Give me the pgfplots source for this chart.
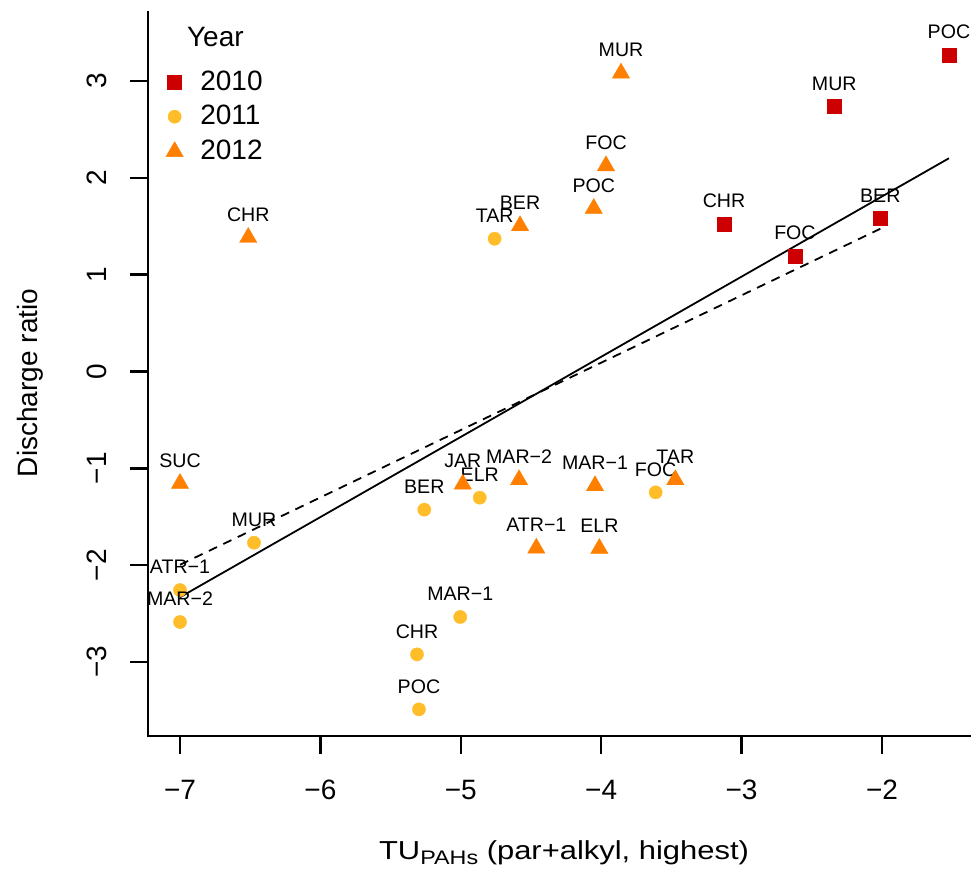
\documentclass[border=0pt]{standalone}
\usepackage{pgfplots}
\usepackage{pgfplotstable}
\usepackage{graphicx}
\pgfplotsset{compat=1.18}
\usetikzlibrary{calc}
\usepackage{fontspec}
\setmainfont{Liberation Sans}

\definecolor{yrA}{HTML}{CC0000}
\definecolor{yrB}{HTML}{FFBD2A}
\definecolor{yrC}{HTML}{FF7F00}

% single mark as legend image, centred on the entry text
\pgfplotsset{dotlegend/.style={legend image code/.code={\draw[##1] plot coordinates {(0pt,0pt)};}}}

% 2010 samples
\pgfplotstableread{
x y site
-1.523 3.266 POC
-2.340 2.735 MUR
-3.125 1.523 CHR
-2.620 1.190 FOC
-2.012 1.582 BER
}\tabA

% 2011 samples
\pgfplotstableread{
x y site
-4.759 1.371 TAR
-6.473 -1.768 MUR
-7.000 -2.257 ATR−1
-7.000 -2.587 MAR−2
-5.260 -1.427 BER
-4.865 -1.303 ELR
-5.004 -2.535 MAR−1
-5.312 -2.921 CHR
-5.298 -3.489 POC
-3.612 -1.248 FOC
}\tabB

% 2012 samples
\pgfplotstableread{
x y site
-3.859 3.081 MUR
-3.966 2.124 FOC
-4.053 1.683 POC
-4.578 1.505 BER
-6.514 1.384 CHR
-7.000 -1.157 SUC
-4.986 -1.164 JAR
-4.585 -1.118 MAR−2
-4.044 -1.180 MAR−1
-3.472 -1.118 TAR
-4.462 -1.825 ATR−1
-4.013 -1.828 ELR
}\tabC

\newcommand\bigfont{\fontsize{14}{16}\selectfont}
\newcommand\smallfont{\fontsize{9.8}{11}\selectfont}

\begin{document}
\begin{tikzpicture}
\useasboundingbox (-74pt,-67pt) rectangle (411.5pt,368pt);
\begin{axis}[
  at={(0,0)}, anchor=south west,
  scale only axis, width=411.5pt, height=362.5pt,
  xmin=-7.228, xmax=-1.366, ymin=-3.764, ymax=3.723,
  clip=false,
  axis line style={draw=none},
  xtick pos=bottom, ytick pos=left, tick align=outside,
  major tick length=9pt,
  tick style={black, line width=1.2pt},
  xtick={-7,-6,-5,-4,-3,-2}, xticklabels={−7,−6,−5,−4,−3,−2},
  ytick={-3,-2,-1,0,1,2,3}, yticklabels={−3,−2,−1,0,1,2,3},
  tick label style={font=\bigfont},
  xticklabel style={anchor=base}, xticklabel shift=23pt,
  yticklabel style={rotate=90, anchor=base}, yticklabel shift=11.5pt,
  label style={font=\bigfont},
  xlabel={\scalebox{1.19}[1]{\fontsize{13}{15}\selectfont TU\raisebox{-2.35pt}{\fontsize{9.8}{11}\selectfont PAHs} (par+alkyl, highest)}},
  xlabel style={at={($(rel axis cs:0.5055,0)+(0,-61.7pt)$)}, anchor=base},
  ylabel={Discharge ratio},
  ylabel style={at={($(rel axis cs:0,0.487)+(-59pt,0)$)}, anchor=center},
  legend style={draw=none, fill=none, inner sep=0pt, outer sep=0pt,
    at={(rel axis cs:0,1)}, anchor=north west, xshift=9pt, yshift=-29.75pt,
    font=\bigfont, row sep=6.2pt, column sep=8.5pt, nodes={inner sep=0pt}},
  legend cell align=left,
  point meta=explicit symbolic,
  every node near coord/.append style={anchor=base, yshift=8.15pt, font=\smallfont, text=black, inner sep=0pt},
]
% fitted lines
\addplot[forget plot, black, line width=0.9pt, no marks] coordinates {(-7,-2.331) (-1.523,2.202)};
\addplot[forget plot, black, line width=0.9pt, no marks, dash pattern=on 4.5pt off 3.5pt] coordinates {(-7,-1.996) (-2.012,1.474)};

\addplot[only marks, nodes near coords, mark=square*, mark size=3.5pt, color=yrA, line width=0.2pt, dotlegend]
  table[x=x, y=y, meta=site] {\tabA};
\addlegendentry{2010}
\addplot[only marks, nodes near coords, mark=*, mark size=3.3pt, color=yrB, line width=0.2pt, dotlegend]
  table[x=x, y=y, meta=site] {\tabB};
\addlegendentry{2011}
\addplot[only marks, nodes near coords, mark=triangle*, mark size=5pt, color=yrC, line width=0.2pt, dotlegend]
  table[x=x, y=y, meta=site] {\tabC};
\addlegendentry{2012}

% L-shaped frame
\draw[black, line width=1.3pt] (rel axis cs:0,1) -- (rel axis cs:0,0) -- (rel axis cs:1,0);
\node[anchor=base west, font=\bigfont, inner sep=0pt] at ($(rel axis cs:0,1)+(19.35pt,-17.8pt)$) {Year};
\end{axis}
\end{tikzpicture}
\end{document}
